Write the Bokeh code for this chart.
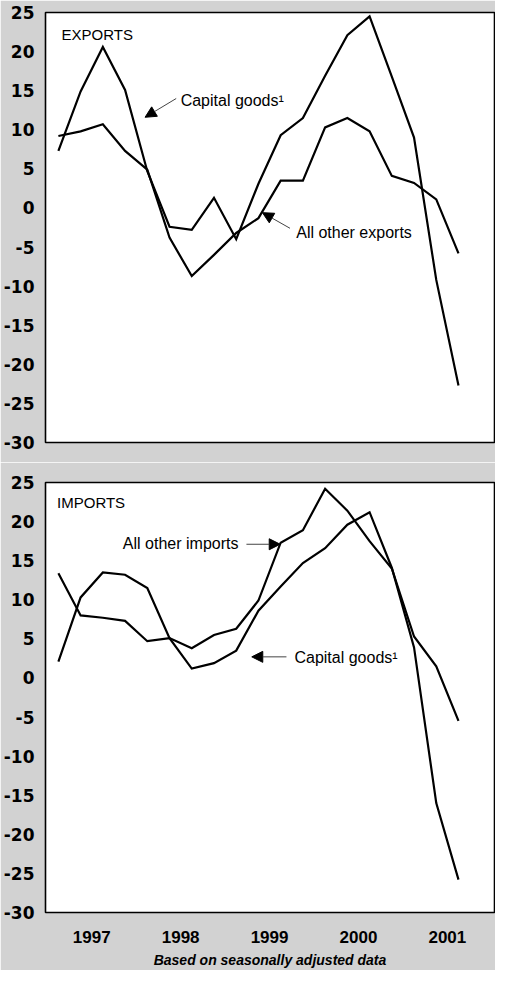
from bokeh.plotting import figure
from bokeh.models import Range1d, FixedTicker, Arrow, NormalHead, Label, ColumnDataSource
from bokeh.layouts import column
from bokeh.embed import file_html
from bokeh.resources import INLINE

# ---- data (percent change, quarterly) ----
quarters = ["1996Q3", "1996Q4", "1997Q1", "1997Q2", "1997Q3", "1997Q4",
            "1998Q1", "1998Q2", "1998Q3", "1998Q4", "1999Q1", "1999Q2",
            "1999Q3", "1999Q4", "2000Q1", "2000Q2", "2000Q3", "2000Q4",
            "2001Q1"]
exp_capital = [7.3, 14.9, 20.6, 15.1, 4.7, -2.4, -2.8, 1.3, -4.0, 3.1,
               9.3, 11.5, 16.9, 22.1, 24.5, 16.8, 9.0, -9.2, -22.7]
exp_other = [9.2, 9.8, 10.7, 7.3, 4.9, -3.8, -8.7, -6.0, -3.2, -1.3,
             3.5, 3.5, 10.3, 11.5, 9.8, 4.1, 3.2, 1.1, -5.8]
imp_other = [13.4, 8.0, 7.7, 7.3, 4.7, 5.1, 3.8, 5.5, 6.3, 9.9,
             17.3, 18.9, 24.2, 21.4, 17.5, 14.0, 5.3, 1.5, -5.5]
imp_capital = [2.1, 10.3, 13.5, 13.2, 11.5, 5.1, 1.2, 1.9, 3.5, 8.6,
               11.7, 14.7, 16.6, 19.6, 21.2, 14.1, 3.9, -16.0, -25.8]
year_ticks = [1997, 1998, 1999, 2000, 2001]
year_labels = ["1997", "1998", "1999", "2000", "2001"]
y_ticks = [-30, -25, -20, -15, -10, -5, 0, 5, 10, 15, 20, 25]
y_labels = ["-30", "-25", "-20", "-15", "-10", "-5", "0", "5", "10", "15", "20", "25"]

# quarter midpoints in fractional years
t = [int(q[:4]) + (int(q[-1]) - 0.5) / 4.0 for q in quarters]
src = ColumnDataSource(dict(t=t, exp_capital=exp_capital, exp_other=exp_other,
                            imp_other=imp_other, imp_capital=imp_capital))

BG = "#d2d2d2"


def panel(top_border, bottom_border, show_x):
    p = figure(frame_width=449, frame_height=430,
               x_range=Range1d(1996.48, 2001.53), y_range=Range1d(-30, 25),
               output_backend="svg", toolbar_location=None,
               x_axis_location="below" if show_x else None,
               min_border_left=40, min_border_right=1,
               min_border_top=top_border, min_border_bottom=bottom_border)
    p.border_fill_color = BG
    p.background_fill_color = "white"
    p.outline_line_color = "black"
    p.outline_line_width = 1.6
    p.xgrid.visible = False
    p.ygrid.visible = False
    ya = p.yaxis[0]
    ya.ticker = FixedTicker(ticks=y_ticks)
    ya.major_label_overrides = {k: v for k, v in zip(y_ticks, y_labels)}
    ya.axis_line_color = None
    ya.major_tick_line_color = None
    ya.minor_tick_line_color = None
    ya.major_label_standoff = 5
    ya.major_label_text_font = "DejaVu Sans"
    ya.major_label_text_font_style = "bold"
    ya.major_label_text_font_size = "17px"
    ya.major_label_text_color = "black"
    if show_x:
        xa = p.xaxis[0]
        xa.ticker = FixedTicker(ticks=year_ticks)
        xa.major_label_overrides = {k: v for k, v in zip(year_ticks, year_labels)}
        xa.axis_line_color = None
        xa.major_tick_line_color = None
        xa.minor_tick_line_color = None
        xa.major_label_standoff = 12
        xa.major_label_text_font = "Liberation Sans"
        xa.major_label_text_font_style = "bold"
        xa.major_label_text_font_size = "17px"
        xa.major_label_text_color = "black"
    return p


def label(p, x, y, text, size="16px"):
    p.add_layout(Label(x=x, y=y, text=text, text_font="Liberation Sans",
                       text_font_size=size, text_baseline="middle",
                       text_align="left", text_color="black"))


def arrow(p, xs, ys, xe, ye):
    p.add_layout(Arrow(end=NormalHead(size=11, fill_color="black", line_color="black",
                                      line_width=1),
                       x_start=xs, y_start=ys, x_end=xe, y_end=ye,
                       line_color="#444444", line_width=1))


# ---- exports ----
p1 = panel(12, 20, False)
p1.line("t", "exp_capital", source=src, line_color="black", line_width=2.2, line_join="miter")
p1.line("t", "exp_other", source=src, line_color="black", line_width=2.2, line_join="miter")
label(p1, 1996.66, 22.2, "EXPORTS", "15px")
label(p1, 1998.0, 13.7, "Capital goods\u00b9")
arrow(p1, 1997.95, 14.0, 1997.60, 11.6)
label(p1, 1999.30, -3.1, "All other exports")
arrow(p1, 1999.23, -2.6, 1998.92, -0.6)

# ---- imports ----
p2 = panel(20, 56, True)
p2.line("t", "imp_other", source=src, line_color="black", line_width=2.2, line_join="miter")
p2.line("t", "imp_capital", source=src, line_color="black", line_width=2.2, line_join="miter")
label(p2, 1996.61, 22.5, "IMPORTS", "15px")
label(p2, 1997.35, 17.15, "All other imports")
arrow(p2, 1998.74, 17.1, 1999.12, 17.1)
label(p2, 1999.28, 2.6, "Capital goods\u00b9")
arrow(p2, 1999.19, 2.7, 1998.80, 2.7)

xa = p2.xaxis[0]
xa.axis_label = "Based on seasonally adjusted data"
xa.axis_label_text_font = "Liberation Sans"
xa.axis_label_text_font_style = "bold italic"
xa.axis_label_text_font_size = "14px"
xa.axis_label_text_color = "black"
xa.axis_label_standoff = 6

layout = column(p1, p2, spacing=0)
open("out.html", "w").write(file_html(layout, INLINE))
